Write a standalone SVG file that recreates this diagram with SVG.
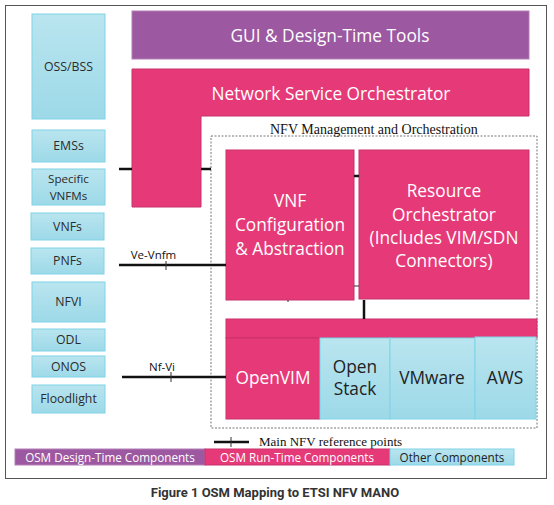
<svg xmlns="http://www.w3.org/2000/svg" width="554" height="505" viewBox="0 0 554 505">
<defs>
<linearGradient id="blueGrad" x1="0" y1="0" x2="0" y2="1">
<stop offset="0" stop-color="#b9e5ef"/>
<stop offset="1" stop-color="#9dd9e8"/>
</linearGradient>
<style>
.blue{fill:url(#blueGrad);stroke:#7fd4e8;stroke-width:1}
.pink{fill:#e63a78;stroke:#c9306a;stroke-width:1}
.purple{fill:#9c58a1;stroke:#b27fb6;stroke-width:1}
.lbl{font-family:"Open Sans","Noto Sans",sans-serif;font-size:12.3px;fill:#2b2b2b;text-anchor:middle}
.big{font-family:"Open Sans","Noto Sans",sans-serif;font-size:17.3px;fill:#fff;text-anchor:middle}
.bigd{font-family:"Open Sans","Noto Sans",sans-serif;font-size:17.3px;fill:#222;text-anchor:middle}
.serif{font-family:"Liberation Serif","Times New Roman",serif;font-size:14px;fill:#111}
.leg{font-family:"Open Sans","Noto Sans",sans-serif;font-size:11.7px;text-anchor:middle}
.con{stroke:#111;stroke-width:2.5;fill:none}
.thin{stroke:#333;stroke-width:1;fill:none}
</style>
</defs>
<rect x="0" y="0" width="554" height="505" fill="#fff"/>
<rect id="frame" x="5.5" y="5.5" width="541" height="473" fill="#fff" stroke="#555" stroke-width="1"/>

<g id="oss-bss"><rect class="blue" x="32" y="14" width="73" height="105"/><text class="lbl" x="68.5" y="71">OSS/BSS</text></g>
<g id="emss"><rect class="blue" x="32" y="130" width="73" height="32"/><text class="lbl" x="68.5" y="150">EMSs</text></g>
<g id="vnfms"><rect class="blue" x="32" y="169" width="73" height="36"/><text class="lbl" x="68.5" y="183" style="font-size:11.6px">Specific</text><text class="lbl" x="68.5" y="199.5" style="font-size:11.6px">VNFMs</text></g>
<g id="vnfs"><rect class="blue" x="31" y="213" width="73" height="27"/><text class="lbl" x="67.5" y="231">VNFs</text></g>
<g id="pnfs"><rect class="blue" x="31" y="248" width="73" height="26"/><text class="lbl" x="67.5" y="265">PNFs</text></g>
<g id="nfvi"><rect class="blue" x="32" y="282" width="73" height="40"/><text class="lbl" x="68.5" y="306">NFVI</text></g>
<g id="odl"><rect class="blue" x="32" y="329" width="73" height="22"/><text class="lbl" x="68.5" y="344">ODL</text></g>
<g id="onos"><rect class="blue" x="32" y="356" width="73" height="21"/><text class="lbl" x="68.5" y="371">ONOS</text></g>
<g id="floodlight"><rect class="blue" x="32" y="385" width="73" height="28"/><text class="lbl" x="68.5" y="403">Floodlight</text></g>

<g id="gui"><rect class="purple" x="132" y="11" width="397" height="48"/><text class="big" x="330" y="42">GUI &amp; Design-Time Tools</text></g>
<g id="nso"><path class="pink" d="M132,69 H529 V116 H201 V207 H132 Z"/><text class="big" x="331" y="100">Network Service Orchestrator</text></g>

<g id="nfv-mano"><rect x="211" y="136" width="326" height="292" fill="none" stroke="#777" stroke-width="1" stroke-dasharray="2,1.5"/><text class="serif" x="270" y="134">NFV Management and Orchestration</text></g>

<g id="vnf-config"><rect class="pink" x="226" y="150" width="128" height="150"/><text class="big" x="290" y="207">VNF</text><text class="big" x="290" y="231">Configuration</text><text class="big" x="290" y="255">&amp; Abstraction</text></g>
<g id="resource-orch"><rect class="pink" x="359" y="150" width="170" height="149"/><text class="big" x="444" y="197">Resource</text><text class="big" x="444" y="221">Orchestrator</text><text class="big" x="444" y="244">(Includes VIM/SDN</text><text class="big" x="444" y="267">Connectors)</text></g>

<g id="vim-bar"><rect class="pink" x="226" y="319" width="311" height="19"/></g>
<g id="openvim"><rect class="pink" x="226" y="338" width="94" height="81"/><text class="big" x="273" y="384">OpenVIM</text></g>
<g id="openstack"><rect class="blue" x="320" y="338" width="70" height="81"/><text class="bigd" x="355" y="373">Open</text><text class="bigd" x="355" y="395">Stack</text></g>
<g id="vmware"><rect class="blue" x="390" y="338" width="85" height="81"/><text class="bigd" x="432" y="384">VMware</text></g>
<g id="aws"><rect class="blue" x="475" y="337" width="61" height="82"/><text class="bigd" x="505" y="384">AWS</text></g>

<g id="connectors">
<line class="con" x1="119" y1="169" x2="132" y2="169"/>
<line class="con" x1="201" y1="169" x2="211" y2="169"/>
<line class="con" x1="354" y1="176" x2="359" y2="176"/>
<line class="thin" x1="354" y1="286" x2="359" y2="286"/>
<line class="con" x1="364" y1="300" x2="364" y2="319"/>
<line class="thin" x1="288" y1="300" x2="288" y2="302"/>
<line class="con" x1="119" y1="265" x2="226" y2="265"/>
<line class="thin" x1="166" y1="261" x2="166" y2="270"/>
<text class="lbl" x="153.5" y="259" style="font-size:11.5px;fill:#111">Ve-Vnfm</text>
<line class="con" x1="122" y1="377" x2="226" y2="377"/>
<line class="thin" x1="171" y1="372" x2="171" y2="382"/>
<text class="lbl" x="162" y="371" style="font-size:11.5px;fill:#111">Nf-Vi</text>
</g>

<g id="legend">
<line class="con" x1="214" y1="442" x2="249" y2="442"/>
<line class="thin" x1="231" y1="437" x2="231" y2="447"/>
<text class="serif" x="259" y="446" style="font-size:13px">Main NFV reference points</text>
<rect class="purple" x="15" y="449" width="190" height="16"/>
<text class="leg" x="110" y="461.5" fill="#fff">OSM Design-Time Components</text>
<rect class="pink" x="205" y="449" width="185" height="16"/>
<text class="leg" x="297" y="461.5" fill="#fff">OSM Run-Time Components</text>
<rect class="blue" x="390" y="449" width="124" height="16"/>
<text class="leg" x="452" y="461.5" fill="#222">Other Components</text>
</g>

<text id="caption" x="275" y="497" text-anchor="middle" font-family="Roboto,'Liberation Sans',sans-serif" font-weight="bold" font-size="13" fill="#333">Figure 1 OSM Mapping to ETSI NFV MANO</text>
</svg>
